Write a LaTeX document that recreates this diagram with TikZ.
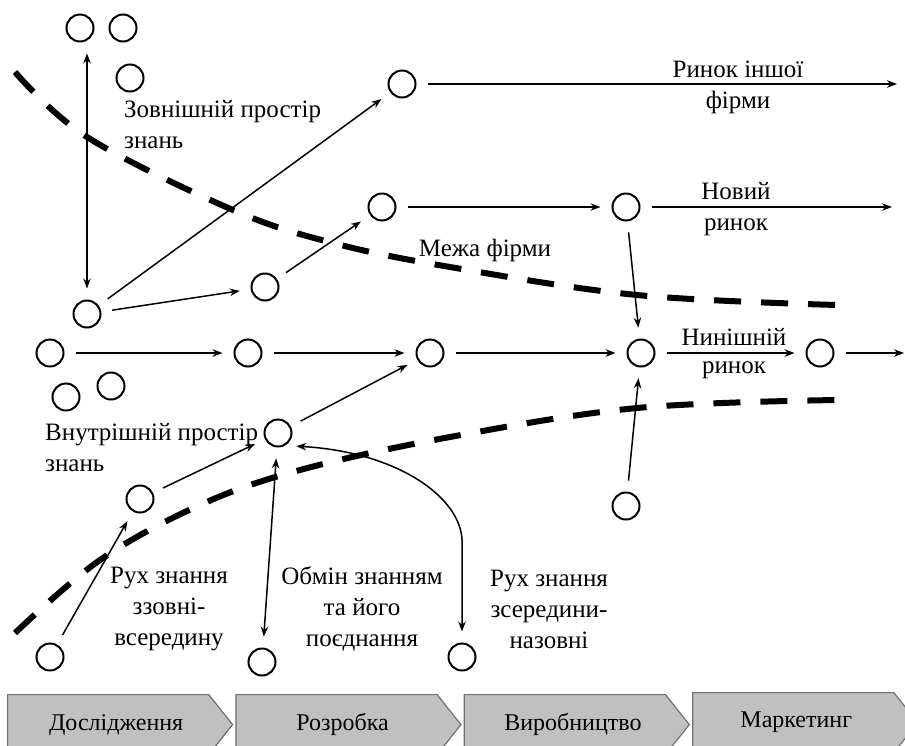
\documentclass[tikz,border=0pt]{standalone}
\usepackage{fontspec}
\setmainfont{Liberation Serif}
\newfontfamily\timesfont{Liberation Serif}
\usetikzlibrary{positioning, arrows.meta, shapes.symbols}
\definecolor{stagefill}{RGB}{192,192,192}
\definecolor{stageline}{RGB}{112,112,112}

\begin{document}
\begin{tikzpicture}[
    x=1pt, y=-1pt, >={Stealth[length=10pt, width=7.5pt]}, node distance=2pt,
    every node/.style={font=\timesfont\fontsize{25}{31}\selectfont},
    dot/.style={circle, draw, line width=2pt, minimum size=27pt, inner sep=0pt},
    lbl/.style={align=center, inner sep=0pt},
    arrow/.style={->, line width=1.5pt, shorten >=11pt, shorten <=11pt},
    boundary/.style={line width=6pt, dash pattern=on 27pt off 20pt},
    stage/.style={signal, signal to=east, signal pointer angle=103, draw=stageline,
                  line width=1.2pt, fill=stagefill, minimum width=225pt, minimum height=60pt,
                  inner sep=0pt, font=\timesfont\fontsize{24}{28}\selectfont}
]
  \useasboundingbox (0,0) rectangle (905,745);
  \clip (0,0) rectangle (905,745);

  \draw[boundary] plot[smooth, tension=0.6] coordinates
    {(15,72) (87,137) (233,210) (333,243) (450,267) (637,295) (837,305)};
  \draw[boundary] plot[smooth, tension=0.6] coordinates
    {(15,633) (100,560) (200,505) (300,470) (450,437) (637,408) (837,400)};

  \node[dot] (ex1) at (80,28) {};
  \node[dot] (ex2) at (123,28) {};
  \node[dot] (ex3) at (130,78) {};
  \node[dot] (src) at (87,314) {};
  \node[dot] (k1) at (265,287) {};
  \node[dot] (k2) at (382,207) {};
  \node[dot] (k3) at (402,84) {};
  \node[dot] (nm) at (626,207) {};
  \node[dot] (in0) at (50,353) {};
  \node[dot] (in1) at (248,353) {};
  \node[dot] (in2) at (430,353) {};
  \node[dot] (cm) at (641,353) {};
  \node[dot] (cm2) at (820,353) {};
  \node[dot] (in3) at (66,397) {};
  \node[dot] (in4) at (111,386) {};
  \node[dot] (mix) at (278,433) {};
  \node[dot] (sp) at (140,499) {};
  \node[dot] (out1) at (50,657) {};
  \node[dot] (out2) at (262,662) {};
  \node[dot] (out3) at (462,657) {};
  \node[dot] (src2) at (626,506) {};
  \coordinate (e1) at (897,84);
  \coordinate (e2) at (892,207);
  \coordinate (e3) at (904,353);

  \node[lbl, align=left, anchor=west] (outer) at (124,125) {Зовнішній простір\\знань};
  \node[lbl, align=left, anchor=west] (inner) at (45,448) {Внутрішній простір\\знань};
  \node[lbl] (edge) at (485,250) {Межа фірми};
  \node[lbl] (other) at (738,87) {Ринок іншої\\фірми};
  \node[lbl] (new) at (736,209) {Новий\\ринок};
  \node[lbl, font=\timesfont\fontsize{25}{28}\selectfont] (now) at (734,354) {Нинішній\\ринок};
  \node[lbl] (t1) at (169,609) {Рух знання\\ззовні-\\всередину};
  \node[lbl] (t2) at (362,609) {Обмін знанням\\та його\\поєднання};
  \node[lbl] (t3) at (549,609) {Рух знання\\зсередини-\\назовні};

  \node[stage, anchor=north west] (s1) at (7,694) {\hspace*{16pt}Дослідження};
  \node[stage, right=of s1] (s2) {\hspace*{12pt}Розробка};
  \node[stage, right=of s2] (s3) {\hspace*{16pt}Виробництво};
  \node[stage, right=of s3, yshift=2pt] (s4) {\hspace*{6pt}Маркетинг};

  \draw[arrow, <->] (src.north) -- (src.north |- ex1.south);
  \draw[arrow] (src) -- (k3);
  \draw[arrow] (src) -- (k1);
  \draw[arrow] (k1) -- (k2);
  \draw[arrow, shorten >=0pt] (k3) -- (e1);
  \draw[arrow] (k2) -- (nm);
  \draw[arrow, shorten >=0pt] (nm) -- (e2);
  \draw[arrow] (nm) -- (cm);
  \draw[arrow] (in0) -- (in1);
  \draw[arrow] (in1) -- (in2);
  \draw[arrow] (in2) -- (cm);
  \draw[arrow] (cm) -- (cm2);
  \draw[arrow, shorten >=0pt] (cm2) -- (e3);
  \draw[arrow] (mix) -- (in2);
  \draw[arrow] (sp) -- (mix);
  \draw[arrow] (out1) -- (sp);
  \draw[arrow, <->] (mix) -- (out2);
  \draw[arrow, <->] (mix.-60) .. controls (400,452) and (465,500) .. (462,545) -- (out3);
  \draw[arrow] (src2) -- (cm);
\end{tikzpicture}
\end{document}
